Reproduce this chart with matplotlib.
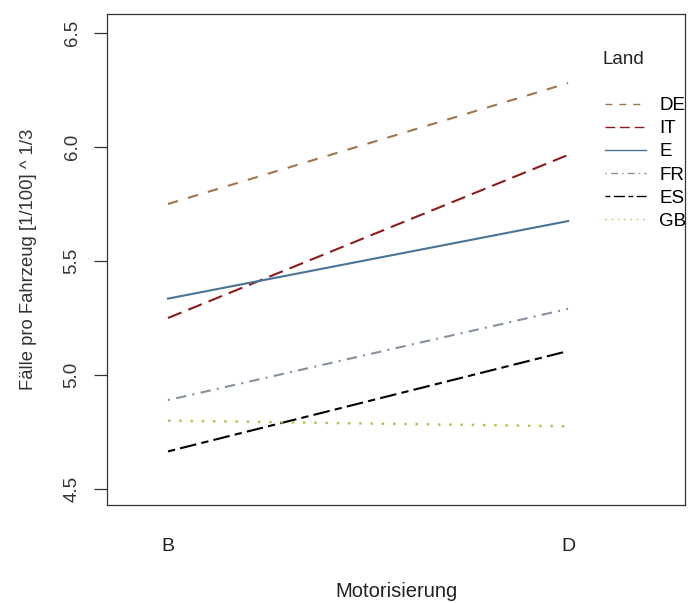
import matplotlib.pyplot as plt
from matplotlib.lines import Line2D

plt.rcParams["font.family"] = ["Liberation Sans", "DejaVu Sans"]

# Mittelwerte je Motorisierung und Land (kubikwurzel-transformiert)
motorisierung = ["B", "D"]
laender = ["DE", "IT", "E", "FR", "ES", "GB"]
werte = {
    "DE": [5.75, 6.28],
    "IT": [5.25, 5.965],
    "E": [5.335, 5.675],
    "FR": [4.89, 5.29],
    "ES": [4.665, 5.105],
    "GB": [4.80, 4.775],
}
farben = {
    "DE": "#a27549",
    "IT": "#8e1b1b",
    "E": "#4a7394",
    "FR": "#8590a0",
    "ES": "#000000",
    "GB": "#aec84a",
}
stile = {
    "DE": (0, (5, 5)),
    "IT": (0, (7, 3.5)),
    "E": "-",
    "FR": (0, (1, 3, 5, 3)),
    "ES": (0, (3.5, 2.5, 8, 2.5)),
    "GB": (0, (1, 3.5)),
}

fig = plt.figure(figsize=(6.92, 6.03), dpi=100)
ax = fig.add_axes([0.1546, 0.1625, 0.8354, 0.8143])

x = [1, 2]
for land in laender:
    lw = 1.8 if land == "GB" else 1.5
    ax.plot(x, werte[land], color=farben[land], linestyle=stile[land], lw=lw)

ax.set_xlim(0.8475, 2.2925)
ax.set_ylim(4.43, 6.583)
ax.set_yticks([4.5, 5.0, 5.5, 6.0, 6.5])
ax.set_yticklabels(["4.5", "5.0", "5.5", "6.0", "6.5"], rotation=90, va="center")
ax.set_xticks(x)
ax.set_xticklabels(motorisierung)

ax.tick_params(axis="y", length=9.5, width=0.9, pad=9.5, labelsize=13.5, colors="#333333")
ax.tick_params(axis="x", length=0, pad=24, labelsize=14, colors="#222222")
for sp in ax.spines.values():
    sp.set_linewidth(0.9)
    sp.set_color("#333333")

ax.set_xlabel("Motorisierung", fontsize=14.5, color="#222222", labelpad=19)
ax.set_ylabel("Fälle pro Fahrzeug [1/100] ^ 1/3", fontsize=13.3, color="#333333", labelpad=19)

# Legende rechts oben im Plotbereich
ax.text(0.858, 0.908, "Land", transform=ax.transAxes, fontsize=13.5,
        color="#222222", va="center", ha="left")
handles = [Line2D([], [], color=farben[l], linestyle=stile[l], lw=1.0) for l in laender]
ax.legend(handles, laender, loc="upper left", bbox_to_anchor=(0.848, 0.846),
          frameon=False, fontsize=13.5, handlelength=2.2, handletextpad=0.7,
          labelspacing=0.32, borderaxespad=0)

fig.savefig("out.png", dpi=100)
